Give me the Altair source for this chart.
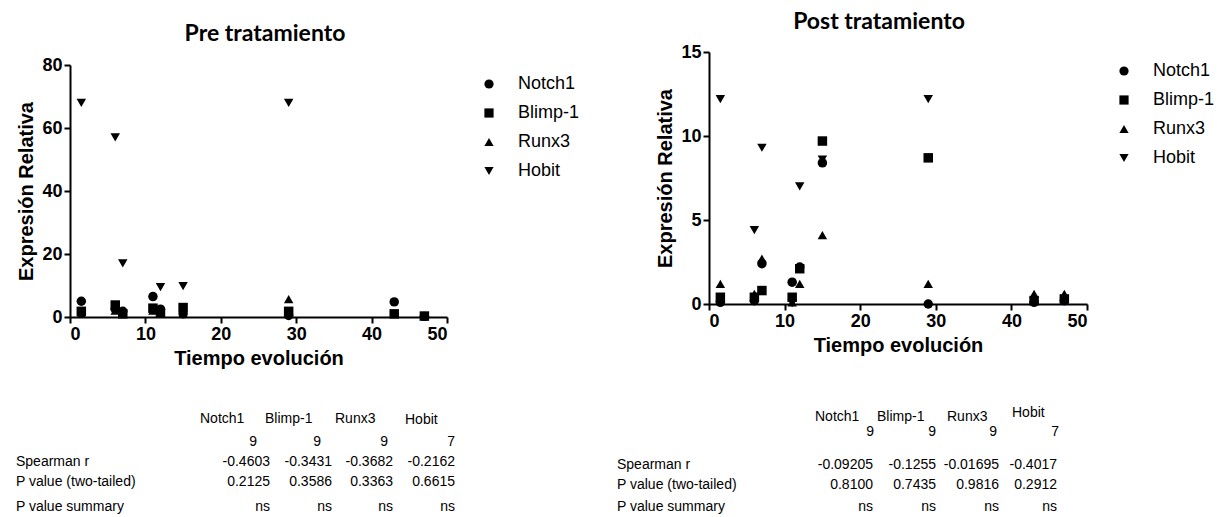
import altair as alt
import pandas as pd

# ---------------- data ----------------
genes = ["Notch1", "Blimp-1", "Runx3", "Hobit"]
shapes = ["circle", "square", "triangle-up", "triangle-down"]
times = [1.5, 6, 7, 11, 12, 15, 29, 43, 47]
hobit_times = [1.5, 6, 7, 11, 12, 15, 29]

pre_notch1 = [5.0, 2.5, 1.8, 6.5, 2.5, 1.0, 0.5, 4.8, 0.2]
pre_blimp1 = [1.8, 3.8, 1.0, 2.8, 1.2, 3.0, 1.8, 1.0, 0.3]
pre_runx3 = [1.0, 2.0, 1.0, 2.0, 1.5, 1.0, 5.7, 1.0, 0.3]
pre_hobit = [68.0, 57.0, 17.0, 2.0, 9.5, 9.8, 68.0]

post_notch1 = [0.1, 0.2, 2.4, 1.3, 2.2, 8.4, 0.0, 0.1, 0.2]
post_blimp1 = [0.4, 0.4, 0.8, 0.4, 2.1, 9.7, 8.7, 0.2, 0.3]
post_runx3 = [1.2, 0.6, 2.7, 0.1, 1.2, 4.1, 1.2, 0.6, 0.6]
post_hobit = [12.2, 4.4, 9.3, 0.05, 7.0, 8.6, 12.2]

x_ticks = [0, 10, 20, 30, 40, 50]
pre_y_ticks = [0, 20, 40, 60, 80]
post_y_ticks = [0, 5, 10, 15]

stat_labels = ["Spearman r", "P value (two-tailed)", "P value summary"]
pre_n = ["9", "9", "9", "7"]
pre_r = ["-0.4603", "-0.3431", "-0.3682", "-0.2162"]
pre_p = ["0.2125", "0.3586", "0.3363", "0.6615"]
pre_sig = ["ns", "ns", "ns", "ns"]
post_n = ["9", "9", "9", "7"]
post_r = ["-0.09205", "-0.1255", "-0.01695", "-0.4017"]
post_p = ["0.8100", "0.7435", "0.9816", "0.2912"]
post_sig = ["ns", "ns", "ns", "ns"]

# ---------------- layout (pixels relative to each plot top-left, plus a vertical shift) ----------------
LEFT = dict(
    title="Pre tratamiento", width=377, height=252, shift=13, ymax=80, yticks=pre_y_ticks,
    title_x=195, title_y=-31, leg_x=410, leg_y=10,
    lab_x=-54, hdr_x=[130, 195, 265, 335], hdr_y=[354, 354, 354, 355],
    n_x=[187, 251, 318, 385], val_x=[200, 262, 323, 385],
    n_y=377, row_y=[397, 417, 442],
)
RIGHT = dict(
    title="Post tratamiento", width=378, height=252, shift=0, ymax=15, yticks=post_y_ticks,
    title_x=170, title_y=-30, leg_x=406, leg_y=10,
    lab_x=-92, hdr_x=[106, 168, 238, 303], hdr_y=[365, 365, 365, 361],
    n_x=[165, 227, 288, 350], val_x=[164, 227, 290, 348],
    n_y=380, row_y=[413, 433, 455],
)

AXIS_FONT = "Liberation Sans"


def long_frame(n1, b1, r3, hb):
    rows = []
    for t, v in zip(hobit_times, hb):
        rows.append({"t": t, "v": v, "gene": "Hobit"})
    for t, v in zip(times, r3):
        rows.append({"t": t, "v": v, "gene": "Runx3"})
    for t, v in zip(times, b1):
        rows.append({"t": t, "v": v, "gene": "Blimp-1"})
    for t, v in zip(times, n1):
        rows.append({"t": t, "v": v, "gene": "Notch1"})
    return pd.DataFrame(rows)


def panel(df, P, n, r, p, sig):
    s = P["shift"]
    H = P["height"] + s
    pts = alt.Chart(df).mark_point(filled=True, opacity=1, size=90, color="black").encode(
        x=alt.X("t:Q", scale=alt.Scale(domain=[0, 50], nice=False, zero=True),
                axis=alt.Axis(values=x_ticks, title="Tiempo evolución")),
        y=alt.Y("v:Q", scale=alt.Scale(domain=[0, P["ymax"]], nice=False, zero=True,
                                       range=[H, s]),
                axis=alt.Axis(values=P["yticks"], title="Expresión Relativa")),
        shape=alt.Shape(
            "gene:N",
            scale=alt.Scale(domain=genes, range=shapes),
            legend=alt.Legend(
                orient="none", legendX=P["leg_x"], legendY=P["leg_y"] + s, title=None,
                padding=0, labelFont=AXIS_FONT, labelFontSize=18, labelColor="black",
                symbolFillColor="black", symbolStrokeColor="black", symbolSize=85,
                symbolStrokeWidth=0, rowPadding=11, labelOffset=20,
            ),
        ),
    )

    title = alt.Chart(pd.DataFrame({"s": [P["title"]]})).mark_text(
        font="Lato", fontWeight="bold", fontSize=23, color="black"
    ).encode(x=alt.value(P["title_x"]), y=alt.value(P["title_y"] + s), text="s:N")

    # table text
    left_rows = []
    for g, hx, hy in zip(genes, P["hdr_x"], P["hdr_y"]):
        left_rows.append({"s": g, "px": hx, "py": hy + s})
    for lab, ry in zip(stat_labels, P["row_y"]):
        left_rows.append({"s": lab, "px": P["lab_x"], "py": ry + s})
    right_rows = []
    for i in range(4):
        right_rows.append({"s": n[i], "px": P["n_x"][i], "py": P["n_y"] + s})
        for vals, ry in zip([r, p, sig], P["row_y"]):
            right_rows.append({"s": vals[i], "px": P["val_x"][i], "py": ry + s})

    tleft = alt.Chart(pd.DataFrame(left_rows)).mark_text(
        font=AXIS_FONT, fontSize=14, color="black", align="left"
    ).encode(
        x=alt.X("px:Q", scale=None, axis=None),
        y=alt.Y("py:Q", scale=None, axis=None),
        text="s:N",
    )
    tright = alt.Chart(pd.DataFrame(right_rows)).mark_text(
        font=AXIS_FONT, fontSize=14, color="black", align="right"
    ).encode(
        x=alt.X("px:Q", scale=None, axis=None),
        y=alt.Y("py:Q", scale=None, axis=None),
        text="s:N",
    )

    return alt.layer(pts, title, tleft, tright).properties(width=P["width"], height=H)


left = panel(long_frame(pre_notch1, pre_blimp1, pre_runx3, pre_hobit), LEFT,
             pre_n, pre_r, pre_p, pre_sig)
right = panel(long_frame(post_notch1, post_blimp1, post_runx3, post_hobit), RIGHT,
              post_n, post_r, post_p, post_sig)

chart = (
    alt.hconcat(left, right, spacing=37)
    .resolve_scale(shape="independent")
    .resolve_legend(shape="independent")
    .properties(padding={"left": 8, "top": 3, "right": 0, "bottom": 0})
    .configure_view(stroke=None)
    .configure_axis(
        domainColor="black", domainWidth=2, tickColor="black", tickWidth=2, tickSize=6,
        labelFont=AXIS_FONT, labelFontWeight="bold", labelFontSize=18, labelColor="black",
        labelPadding=2, titleFont=AXIS_FONT, titleFontWeight="bold", titleFontSize=20,
        titleColor="black", titlePadding=5, grid=False,
    )
)

chart.save("out.html", embed_options={"renderer": "svg", "actions": False})
